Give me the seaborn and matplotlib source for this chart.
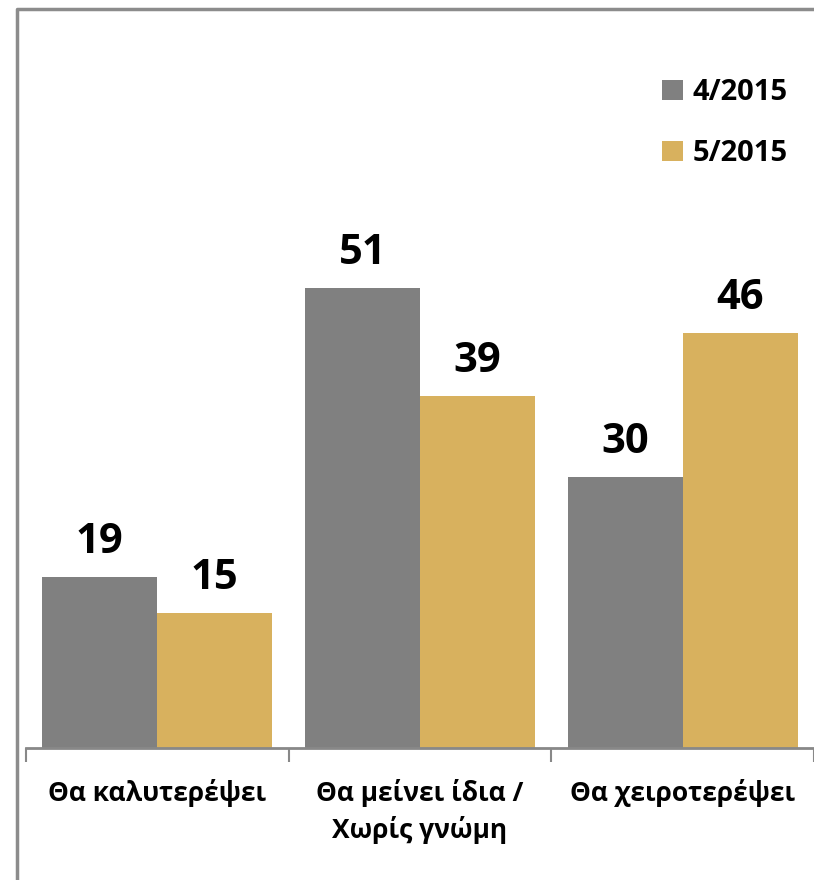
import pandas as pd
import matplotlib.pyplot as plt
import seaborn as sns
from matplotlib.lines import Line2D

# values
categories = ["Θα καλυτερέψει", "Θα μείνει ίδια /\nΧωρίς γνώμη", "Θα χειροτερέψει"]
series = ["4/2015", "5/2015"]
apr_2015 = [19, 51, 30]
may_2015 = [15, 39, 46]
colors = ["#808080", "#D8B15E"]

df = pd.DataFrame({
    "cat": categories * 2,
    "period": [series[0]] * 3 + [series[1]] * 3,
    "value": apr_2015 + may_2015,
})

sns.set_style("white")
plt.rcParams["font.family"] = ["Open Sans", "DejaVu Sans"]
plt.rcParams["text.color"] = "black"
plt.rcParams["xtick.color"] = "black"

fig = plt.figure(figsize=(8.14, 8.8), dpi=100)
W, H = 814, 880
ax = fig.add_axes([26 / W, (H - 748) / H, (814 - 26) / W, (748 - 26) / H])

sns.barplot(data=df, x="cat", y="value", hue="period", palette=colors,
            width=0.875, gap=0, saturation=1, linewidth=0, ax=ax, legend=True)

for c in ax.containers:
    ax.bar_label(c, fontsize=30, fontweight="bold", padding=10, color="black")

ax.set_ylim(0, 80)
ax.set_xlim(-0.5, 2.485)
ax.set_xlabel(None)
ax.set_ylabel(None)
ax.set_yticks([])

# category boundaries as tick marks
ax.set_xticks([-0.5, 0.5, 1.5, 2.5], minor=True)
ax.tick_params(axis="x", which="minor", length=10, width=1.5, color="#888888",
               direction="out", bottom=True)
ax.tick_params(axis="x", which="major", length=0, pad=22, labelsize=19,
               labelcolor="black")
for lbl in ax.get_xticklabels():
    lbl.set_fontweight("bold")
    lbl.set_linespacing(1.45)

for s in ["top", "right", "left"]:
    ax.spines[s].set_visible(False)
ax.spines["bottom"].set_color("#888888")
ax.spines["bottom"].set_linewidth(2)

ax.legend(loc="upper left", bbox_to_anchor=(636 / W, 1 - 52 / H),
          bbox_transform=fig.transFigure, frameon=False,
          prop={"weight": "bold", "size": 21}, handlelength=0.7,
          handleheight=0.7, handletextpad=0.35, labelspacing=1.1)

# outer frame of the chart area (left and top edges only are visible)
fig.lines.append(Line2D([17 / W, 17 / W, 1.1], [-0.1, 1 - 9 / H, 1 - 9 / H],
                        transform=fig.transFigure, color="#8c8c8c",
                        linewidth=2.5))

fig.savefig("out.png", dpi=100)
